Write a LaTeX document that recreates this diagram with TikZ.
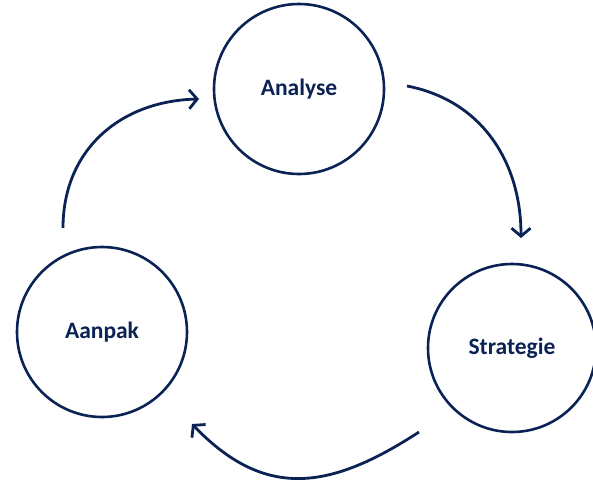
\documentclass[tikz,border=0pt]{standalone}
\usepackage{fontspec}
\setmainfont{Carlito}
\usetikzlibrary{arrows.meta}
\definecolor{navy}{RGB}{10,34,84}
\begin{document}
\begin{tikzpicture}[x=1pt,y=-1pt,
  phase/.style={circle,draw=navy,line width=2.6pt,minimum size=170pt,inner sep=0pt,text=navy,font=\fontsize{23.5}{27}\selectfont\bfseries},
  flow/.style={draw=navy,line width=2.8pt,-{Straight Barb[length=8pt,width=19pt]}}]
\useasboundingbox (0,0) rectangle (593,479);
\node[phase] (analyse) at (299,89) {Analyse};
\node[phase] (aanpak) at (102,332) {Aanpak};
\node[phase,minimum size=168pt] (strategie) at (512,348) {Strategie};
\coordinate (a1) at (63,228);
\coordinate (a2) at (199,99);
\coordinate (b1) at (407,86);
\coordinate (b2) at (521,238);
\coordinate (c1) at (419,432);
\coordinate (c2) at (192,424);
\draw[flow] (a1) .. controls (63,150) and (120,101) .. (a2);
\draw[flow] (b1) .. controls (480,100) and (521,160) .. (b2);
\draw[flow] (c1) .. controls (330,490) and (265,500) .. (c2);
\end{tikzpicture}
\end{document}
